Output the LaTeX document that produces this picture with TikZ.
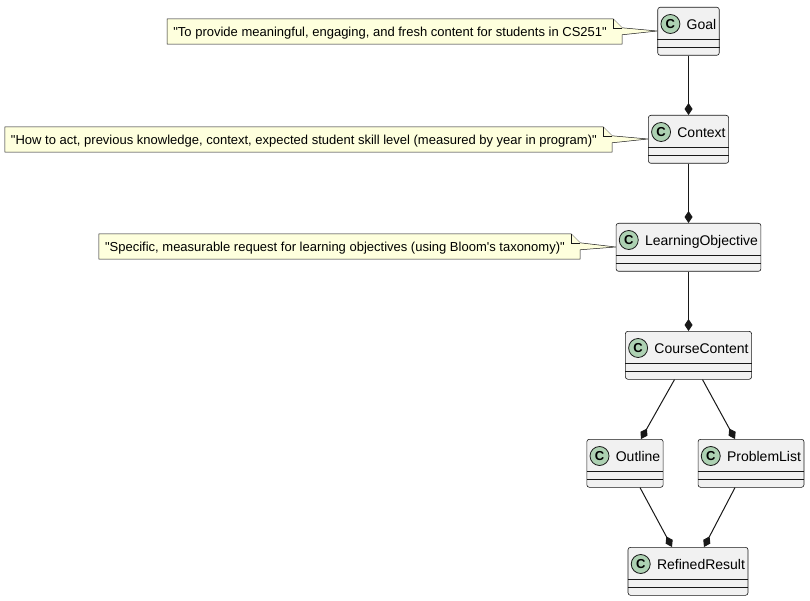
\documentclass[tikz,border=0pt]{standalone}
\usepackage{fontspec}
\setmainfont{Liberation Sans}
\usetikzlibrary{arrows.meta,calc}
\definecolor{boxfill}{HTML}{F1F1F1}
\definecolor{edgecol}{HTML}{181818}
\definecolor{circfill}{HTML}{ADD1B2}
\definecolor{notefill}{HTML}{FEFFDD}
\newcommand\umlsep[1]{%
  \draw[sepline] ($(#1.north west)+(0,32)$) -- ($(#1.north east)+(0,32)$);
  \draw[sepline] ($(#1.north west)+(0,40)$) -- ($(#1.north east)+(0,40)$);
  \node[circ] (#1c) at ($(#1.north west)+(13,17)$) {C};}
\newcommand\umlnote[2]{%
  \draw[noteline] (#1.north west) -- ($(#1.north east)+(-9,0)$) -- ($(#1.north east)+(0,9)$)
    -- ($(#2.north west)+(0,24)$) -- ($(#1.north east)+(0,16)$) -- (#1.south east) -- (#1.south west) -- cycle;
  \draw[noteline] ($(#1.north east)+(-9,0)$) -- ($(#1.north east)+(-9,9)$) -- ($(#1.north east)+(0,9)$);}
\newcommand\qd{\textquotedbl}
\begin{document}
\begin{tikzpicture}[x=1pt,y=-1pt,
  cls/.style={draw=edgecol, fill=boxfill, line width=0.6pt, rounded corners=2.5pt, anchor=north,
    font=\fontsize{14}{16}\selectfont, text height=10pt, text depth=14pt, inner ysep=12pt, inner xsep=3pt,
    execute at begin node={\hspace*{26pt}}},
  sepline/.style={draw=edgecol, line width=0.6pt},
  circ/.style={circle, draw=edgecol, fill=circfill, line width=0.8pt, minimum size=19pt, inner sep=0pt,
    font=\bfseries\fontsize{13}{13}\selectfont},
  notebox/.style={anchor=east, font=\fontsize{13}{15}\selectfont, text height=10pt, text depth=0.5pt,
    minimum height=25pt, inner ysep=0pt, inner xsep=6pt, execute at end node={\hspace*{9pt}}},
  noteline/.style={draw=edgecol, fill=notefill, line width=0.5pt, line join=miter},
  comp/.style={draw=edgecol, line width=1pt, -{Diamond[length=12pt,width=8pt,fill=edgecol]}}]
\useasboundingbox (0,0) rectangle (810,601);
% notes (placeholder nodes giving the outline anchors)
\node[notebox] (n1) at (622,31.5) {\phantom{\qd To provide meaningful, engaging, and fresh content for students in CS251\qd}};
\node[notebox] (n2) at (612,139.5) {\phantom{\qd How to act, previous knowledge, context, expected student skill level (measured by year in program)\qd}};
\node[notebox] (n3) at (580,246.5) {\phantom{\qd Specific, measurable request for learning objectives (using Bloom\textquotesingle s taxonomy)\qd}};
% classes
\node[cls] (goal) at (688.5,7) {Goal};
\node[cls] (context) at (688.5,115) {Context};
\node[cls] (lo) at (688.5,223) {LearningObjective};
\node[cls] (cc) at (688.5,331) {CourseContent};
\node[cls] (outline) at (625,439) {Outline};
\node[cls] (pl) at (751,439) {ProblemList};
\node[cls] (rr) at (688,547) {RefinedResult};
% note outlines
\umlnote{n1}{goal}
\umlnote{n2}{context}
\umlnote{n3}{lo}
% note texts above outlines
\node[notebox] (n1t) at (622,31.5) {\qd To provide meaningful, engaging, and fresh content for students in CS251\qd};
\node[notebox] (n2t) at (612,139.5) {\qd How to act, previous knowledge, context, expected student skill level (measured by year in program)\qd};
\node[notebox] (n3t) at (580,246.5) {\qd Specific, measurable request for learning objectives (using Bloom\textquotesingle s taxonomy)\qd};
% class details
\umlsep{goal}
\umlsep{context}
\umlsep{lo}
\umlsep{cc}
\umlsep{outline}
\umlsep{pl}
\umlsep{rr}
% connectors
\draw[comp] (goal.south) -- (context.north);
\draw[comp] (context.south) -- (lo.north);
\draw[comp] (lo.south) -- (cc.north);
\draw[comp] ($(cc.south)+(-14,0)$) -- ($(outline.north)+(16,0)$);
\draw[comp] ($(cc.south)+(14,0)$) -- ($(pl.north)+(-16,0)$);
\draw[comp] ($(outline.south)+(15,0)$) -- ($(rr.north)+(-16,0)$);
\draw[comp] ($(pl.south)+(-16,0)$) -- ($(rr.north)+(16,0)$);
\end{tikzpicture}
\end{document}
